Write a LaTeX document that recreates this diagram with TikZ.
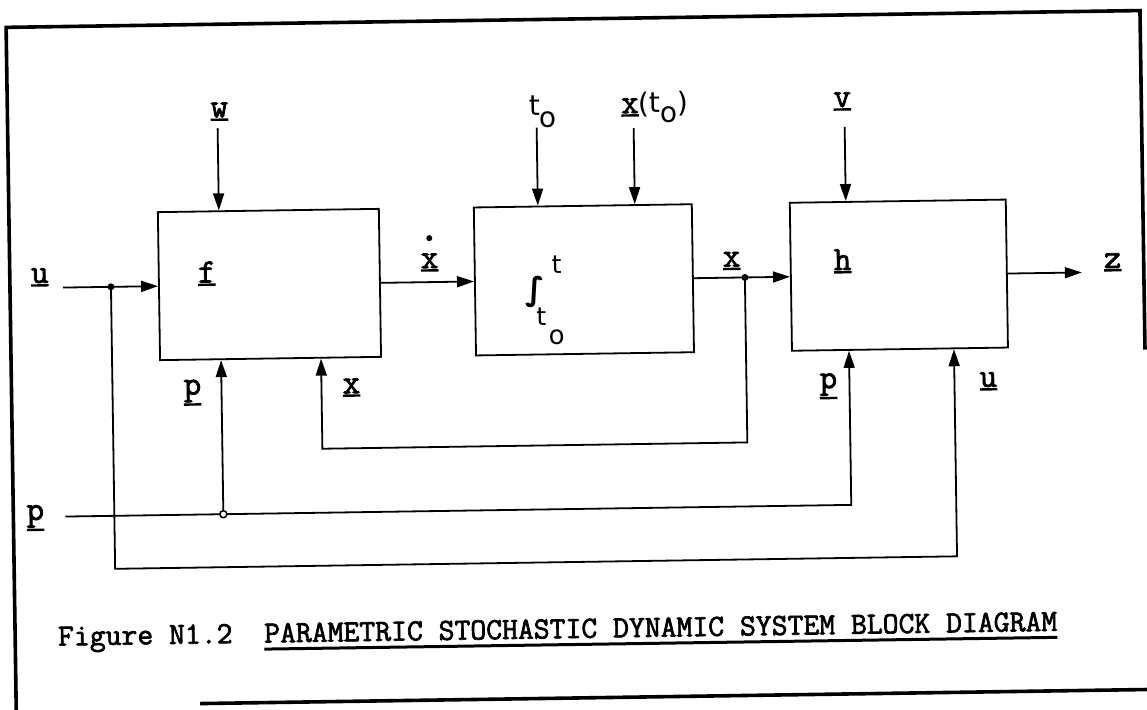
\documentclass[tikz,border=0pt]{standalone}
\usepackage{fontspec}
\usetikzlibrary{arrows.meta}
\newfontfamily\twfont[FakeBold=2.2]{Latin Modern Mono}
\newfontfamily\djfont{DejaVu Sans}
\newcommand\tul[1]{\setbox0=\hbox{#1}\leavevmode\rlap{\rule[\dimexpr-\dp0-3.5pt\relax]{\wd0}{2.4pt}}\box0}
\newcommand\ulc[1]{\setbox0=\hbox{#1}\leavevmode\rlap{\rule[-8pt]{\wd0}{3pt}}\box0}
\begin{document}
\begin{tikzpicture}[x=1pt,y=-1pt,line width=1.8pt,
  blk/.style={draw,line width=1.8pt,minimum width=#1,minimum height=148pt,inner sep=0pt},
  arr/.style={-{Triangle[length=17pt,width=11pt]}},
  lab/.style={font=\twfont\fontsize{34}{34}\selectfont,inner sep=0pt,anchor=base},
  sans/.style={font=\djfont\fontsize{28}{28}\selectfont,inner sep=0pt,anchor=base},
  frm/.style={line width=3.6pt}]
\fill[white] (0,0) rectangle (1147,709);
\useasboundingbox (0,0) rectangle (1147,709);
\begin{scope}[transform canvas={rotate around={0.85:(573,354)}}]
% frame
\draw[frm] (11,720) -- (11,19) -- (1145,19) -- (1145,358);
\draw[frm] (195,698) -- (1170,698);
% blocks
\node[blk=221pt] (fb) at (270.5,280) {};
\node[blk=218pt] (ib) at (585,280) {};
\node[blk=216pt] (hb) at (900,280) {};
% labels
\node[lab] (ul) at (41,275) {\tul{u}};
\node[lab] (wl) at (223,112) {\tul{w}};
\node[lab] (fl) at (208,277) {\tul{f}};
\node[lab] (pfl) at (192,389) {\tul{p}};
\node[lab] (xfl) at (351,390) {\tul{x}};
\node[lab] (xdl) at (431,266) {\tul{x}};
\node[lab] (xol) at (733,269) {\tul{x}};
\node[lab] (vl) at (846,111) {\tul{v}};
\node[lab] (hl) at (844,274) {\tul{h}};
\node[lab] (zl) at (1114,276) {\tul{z}};
\node[lab] (phl) at (828,392) {\tul{p}};
\node[lab] (uhl) at (988,393) {\tul{u}};
\node[lab] (pl) at (33,512) {\tul{p}};
\fill ([yshift=30pt]xdl.base) circle (3pt);
% t0 and x(t0)
\node[sans,anchor=base west] (t0l) at (532,115) {t\kern-1pt\raisebox{-12pt}{o}};
\node[sans,anchor=base west] (xtl) at (624,114) {{\twfont\fontsize{34}{34}\selectfont\tul{x}}(t\raisebox{-10pt}{o})};
% integral
\node[sans,anchor=center,font=\djfont\bfseries\fontsize{32}{32}\selectfont] (ig) at (536,291) {∫};
\node[sans,font=\djfont\fontsize{25}{25}\selectfont] (igt) at (558,273) {t};
\node[sans,font=\djfont\fontsize{25}{25}\selectfont] (igb) at (542,325) {t};
\node[sans,font=\djfont\fontsize{26}{26}\selectfont] (igo) at (557,344) {o};
% coordinates
\coordinate (uin) at (64,280);
\coordinate (uj) at (112,280);
\coordinate (wt) at (221,123);
\coordinate (t0t) at (540,127);
\coordinate (xtt) at (637,129);
\coordinate (vt) at (848,131);
\coordinate (xj) at (746,280);
\coordinate (xb) at (746,445);
\coordinate (xf) at (321,445);
\coordinate (pin) at (63,509);
\coordinate (pj) at (221,509);
\coordinate (ph) at (849,509);
\coordinate (ub) at (112,562);
\coordinate (uh) at (954,562);
\coordinate (zt) at (1083,280);
% connectors
\draw[arr] (uin) -- (fb.west);
\draw[arr] (wt) -- (wt |- fb.north);
\draw[arr] (t0t) -- (t0t |- ib.north);
\draw[arr] (xtt) -- (xtt |- ib.north);
\draw[arr] (vt) -- (vt |- hb.north);
\draw[arr] (fb.east) -- (ib.west);
\draw (ib.east) -- (xj);
\draw[arr] (xj) -- (hb.west);
\draw[arr] (hb.east) -- (zt);
\draw[arr] (xj) -- (xb) -- (xf) -- (xf |- fb.south);
\draw[arr] (pin) -- (ph) -- (ph |- hb.south);
\draw[arr] (pj) -- (pj |- fb.south);
\draw[arr] (uj) -- (ub) -- (uh) -- (uh |- hb.south);
% junctions
\fill (uj) circle (3.5pt);
\fill (xj) circle (3.5pt);
\draw[line width=1.5pt,fill=white] (pj) circle (3.5pt);
% caption
\node[anchor=base west,inner sep=0pt,font=\twfont\fontsize{30.8}{31}\selectfont] (cap) at (53,638) {Figure N1.2~~\ulc{PARAMETRIC STOCHASTIC DYNAMIC SYSTEM BLOCK DIAGRAM}};
\end{scope}
\end{tikzpicture}
\end{document}
